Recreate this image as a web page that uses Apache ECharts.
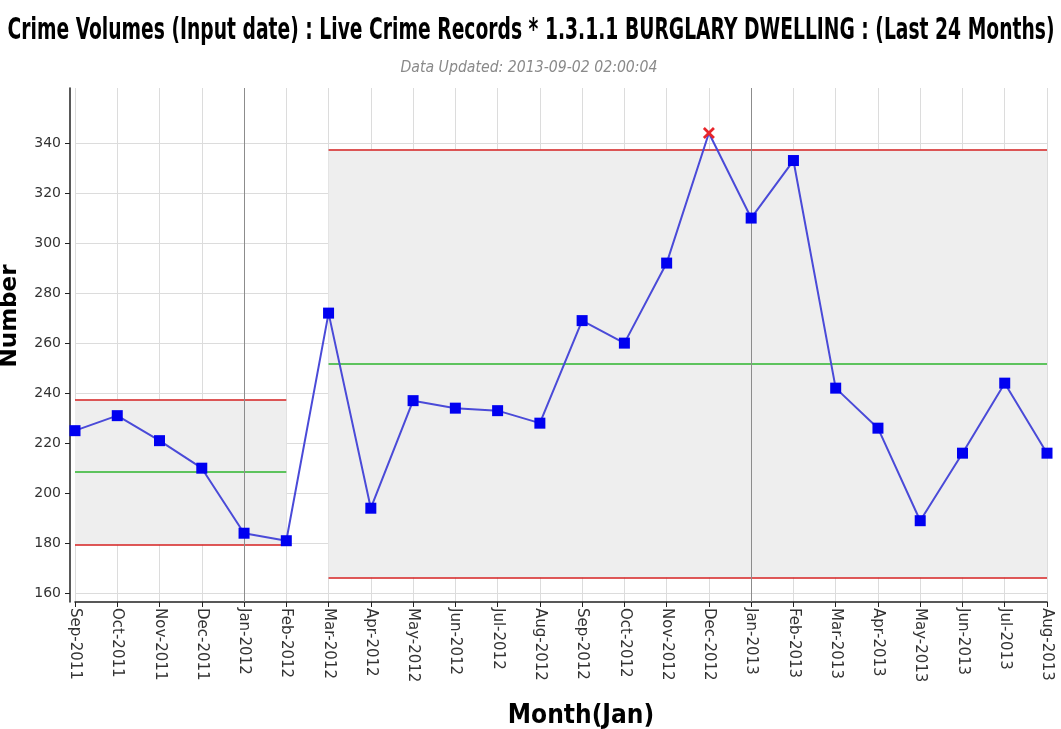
<!DOCTYPE html>
<html>
<head>
<meta charset="utf-8">
<title>Burglary dwelling - last 24 months</title>
<script src="https://cdn.jsdelivr.net/npm/echarts@6/dist/echarts.min.js"></script>
<style>
  html, body { margin: 0; padding: 0; background: #fff; }
  #chart { width: 1061px; height: 729px; }
</style>
</head>
<body>
<div id="chart"></div>
<script>
  // months on the x axis
  const months = ['Sep-2011', 'Oct-2011', 'Nov-2011', 'Dec-2011', 'Jan-2012', 'Feb-2012',
    'Mar-2012', 'Apr-2012', 'May-2012', 'Jun-2012', 'Jul-2012', 'Aug-2012',
    'Sep-2012', 'Oct-2012', 'Nov-2012', 'Dec-2012', 'Jan-2013', 'Feb-2013',
    'Mar-2013', 'Apr-2013', 'May-2013', 'Jun-2013', 'Jul-2013', 'Aug-2013']
  // crimes recorded per month
  const crimes = [225, 231, 221, 210, 184, 181, 272, 194, 237, 234, 233, 228,
    269, 260, 292, 344, 310, 333, 242, 226, 189, 216, 244, 216]
  // months that break the upper limit (drawn with a red cross)
  const outliers = ['Dec-2012']
  // control limit segments
  const segStart = ['Sep-2011', 'Mar-2012']
  const segEnd = ['Feb-2012', 'Aug-2013']
  const segMean = [208.6, 251.8]
  const segUpper = [237.4, 337.4]
  const segLower = [179.4, 166.3]
  // y tick labels
  const yTicks = [160, 180, 200, 220, 240, 260, 280, 300, 320, 340]
  // year boundaries
  const yearLines = ['Jan-2012', 'Jan-2013']

  const titleText = 'Crime Volumes (Input date) : Live Crime Records * 1.3.1.1 BURGLARY DWELLING : (Last 24 Months)'
  const subText = 'Data Updated: 2013-09-02 02:00:04'

  const narrow = '"Liberation Sans Narrow", "DejaVu Sans Condensed", "Liberation Sans", sans-serif'
  const titleFont = 'bold 30px ' + narrow
  const subFont = 'italic 15px ' + narrow

  // squeeze a text horizontally so it spans the given width (the original uses a compressed face)
  function squeeze(text, font, width) {
    const ctx = document.createElement('canvas').getContext('2d')
    ctx.font = font
    return width / ctx.measureText(text).width
  }

  const crossPath = 'path://M0,1.6L1.6,0L5,3.4L8.4,0L10,1.6L6.6,5L10,8.4L8.4,10L5,6.6L1.6,10L0,8.4L3.4,5Z'

  const seriesData = crimes.map((v, i) => {
    if (outliers.indexOf(months[i]) >= 0) {
      return { value: v, symbol: crossPath, symbolSize: 12, itemStyle: { color: '#e8262b' } }
    }
    return v
  })

  const limitLines = []
  const bands = []
  segStart.forEach((s, i) => {
    const e = segEnd[i]
    bands.push([{ coord: [s, segUpper[i]] }, { coord: [e, segLower[i]] }])
    limitLines.push([{ coord: [s, segUpper[i]], lineStyle: { color: '#d42020' } }, { coord: [e, segUpper[i]] }])
    limitLines.push([{ coord: [s, segLower[i]], lineStyle: { color: '#d42020' } }, { coord: [e, segLower[i]] }])
    limitLines.push([{ coord: [s, segMean[i]], lineStyle: { color: '#2cb52c' } }, { coord: [e, segMean[i]] }])
  })
  yearLines.forEach(m => {
    limitLines.push({ xAxis: m, lineStyle: { color: '#8c8c8c', width: 1 } })
  })

  const chart = echarts.init(document.getElementById('chart'))
  chart.setOption({
    animation: false,
    backgroundColor: '#ffffff',
    graphic: [
      {
        type: 'text',
        x: 531,
        y: 31,
        scaleX: squeeze(titleText, titleFont, 1047),
        style: { text: titleText, font: titleFont, fill: '#000', align: 'center', verticalAlign: 'middle' }
      },
      {
        type: 'text',
        x: 529,
        y: 68,
        scaleX: squeeze(subText, subFont, 257),
        style: { text: subText, font: subFont, fill: '#8a8a8a', align: 'center', verticalAlign: 'middle' }
      },
      {
        type: 'text',
        x: -1,
        y: 316,
        rotation: Math.PI / 2,
        style: {
          text: 'Number',
          font: 'bold 23px "DejaVu Sans", sans-serif',
          fill: '#000',
          align: 'center',
          verticalAlign: 'top'
        }
      }
    ],
    grid: { left: 75, right: 14, top: 88, bottom: 127, outerBoundsMode: 'none' },
    xAxis: {
      type: 'category',
      data: months,
      boundaryGap: false,
      name: 'Month(Jan)',
      nameLocation: 'middle',
      nameGap: 101,
      nameTextStyle: {
        fontFamily: narrow,
        fontWeight: 'bold',
        fontSize: 26,
        color: '#000',
        padding: [0, 0, 0, 40]
      },
      axisLine: { lineStyle: { color: '#222', width: 1.5 } },
      axisTick: { show: true, interval: 0, length: 5, lineStyle: { color: '#222' } },
      axisLabel: {
        interval: 0,
        rotate: -90,
        margin: 6,
        fontFamily: '"DejaVu Sans", sans-serif',
        fontSize: 15,
        color: '#333'
      },
      splitLine: { show: true, interval: 0, lineStyle: { color: '#dcdcdc', width: 1 } }
    },
    yAxis: {
      type: 'value',
      min: 156.5,
      max: 362,
      offset: 5,
      axisLine: { show: true, lineStyle: { color: '#222', width: 1.5 } },
      axisTick: { show: true, length: 5, customValues: yTicks, lineStyle: { color: '#222' } },
      axisLabel: {
        customValues: yTicks,
        margin: 9,
        fontFamily: '"DejaVu Sans", sans-serif',
        fontSize: 14,
        color: '#333'
      },
      splitLine: { show: true, lineStyle: { color: '#dcdcdc', width: 1 } }
    },
    series: [
      {
        name: 'Crimes',
        type: 'line',
        data: seriesData,
        symbol: 'rect',
        symbolSize: 11,
        showAllSymbol: true,
        itemStyle: { color: '#0000f0' },
        lineStyle: { color: '#4a4ad8', width: 2 },
        z: 5,
        markArea: {
          silent: true,
          itemStyle: { color: '#eeeeee' },
          data: bands
        },
        markLine: {
          silent: true,
          symbol: 'none',
          label: { show: false },
          lineStyle: { type: 'solid', width: 1.5 },
          data: limitLines
        }
      }
    ]
  })
</script>
</body>
</html>
